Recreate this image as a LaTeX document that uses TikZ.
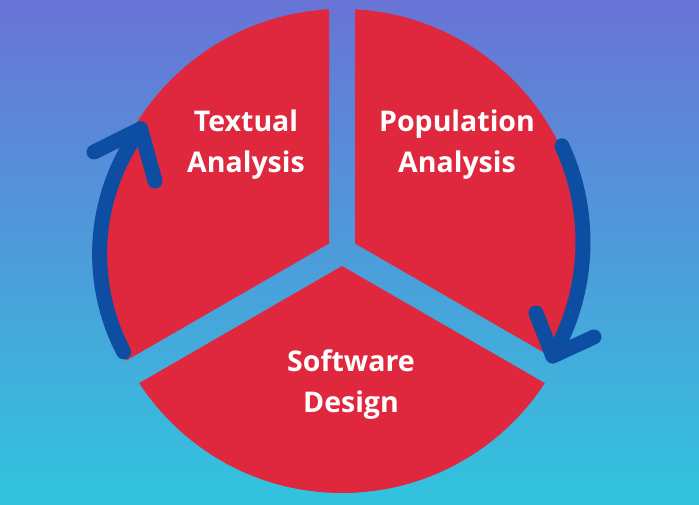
\documentclass[tikz,border=0pt]{standalone}
\usepackage{fontspec}
\setmainfont{Open Sans}
\usetikzlibrary{calc}

\definecolor{sectorred}{RGB}{223,40,62}
\definecolor{arrowblue}{RGB}{14,78,162}
\definecolor{bgtop}{RGB}{104,116,214}
\definecolor{bgbottom}{RGB}{50,196,222}

\tikzset{
  sector/.style={fill=sectorred},
  phase/.style={text=white, align=center, font=\bfseries\fontsize{28.5}{41}\selectfont},
  cycle arrow/.style={draw=arrowblue, line width=15pt, line cap=round, line join=round},
}

\begin{document}
\begin{tikzpicture}[x=1pt, y=-1pt]
    % background
    \shade[top color=bgtop, bottom color=bgbottom] (0,0) rectangle (699,505);
    \useasboundingbox (0,0) rectangle (699,505);

    \coordinate (c) at (342,251);

    % upper left part
    \begin{scope}
        \clip (329,-10) -- (329,243.5) -- ++(150:400) -- (-20,-10) -- cycle;
        \fill[sector] (c) circle[radius=242];
    \end{scope}
    % upper right part
    \begin{scope}
        \clip (355,-10) -- (355,243.5) -- ++(30:400) -- (720,-10) -- cycle;
        \fill[sector] (c) circle[radius=242];
    \end{scope}
    % lower part
    \begin{scope}
        \clip (342,266) -- ++(150:400) -- (-20,600) -- (720,600) -- ($(342,266)+(30:400)$) -- cycle;
        \fill[sector] (c) circle[radius=242];
    \end{scope}

    \node[phase] (textual) at (246,145) {Textual\\Analysis};
    \node[phase] (population) at (457,145) {Population\\Analysis};
    \node[phase] (software) at (351,385) {Software\\Design};

    % arrows
    \coordinate (larc) at (311,254);
    \coordinate (rarc) at (353,242);
    \coordinate (ltail) at ($(larc)+(152.4:211.4)$);
    \coordinate (ltip) at ($(larc)+(216.3:211.4)$);
    \coordinate (rtail) at ($(rarc)+(-24.7:230)$);
    \coordinate (rtip) at ($(rarc)+(29.7:230)$);

    \draw[cycle arrow] (ltail) arc[start angle=152.4, end angle=216.3, radius=211.4];
    \draw[cycle arrow] (94,152) -- (ltip) -- (155,181);
    \draw[cycle arrow] (rtail) arc[start angle=-24.7, end angle=29.7, radius=230];
    \draw[cycle arrow] (536,313) -- (rtip) -- (594,337);
\end{tikzpicture}
\end{document}
